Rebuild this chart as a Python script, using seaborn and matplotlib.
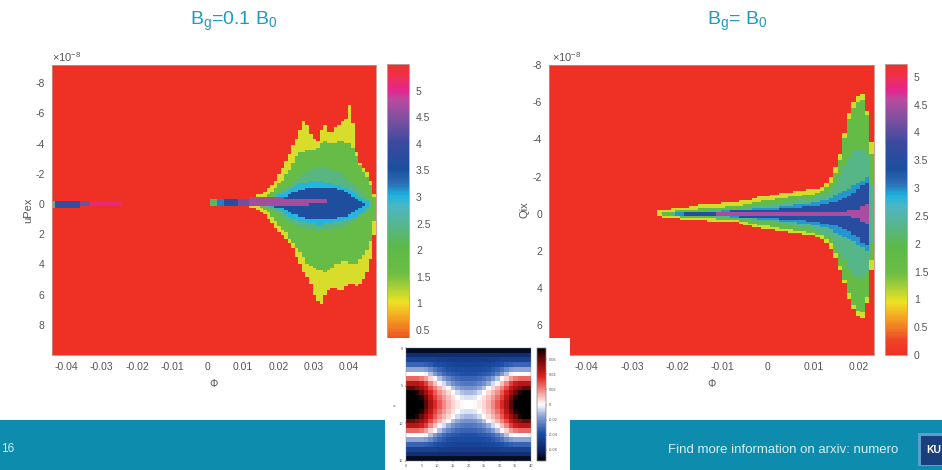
import matplotlib
matplotlib.use('Agg')
import matplotlib.pyplot as plt
from matplotlib.colors import LinearSegmentedColormap
from matplotlib.patches import Rectangle
import numpy as np
import seaborn as sns

# left panel, columns phi = 0.012 ... 0.047, band edges in units of 1e-8
up_phi_start = 0.012
up_edge_top = [.26,.35,.5,.6,.75,.93,1.1,1.4,1.9,2.3,2.75,3.2,3.85,4.3,4.9,5.4,5.2,4.5,4.25,4.1,4.8,5.2,4.7,4.65,5.0,5.1,5.5,5.6,6.4,5.3,3.4,2.7,2.3,2.0,1.4,.6]
up_green_top = [0,0,.1,.2,.35,.5,.7,.95,1.25,1.5,1.85,2.2,2.65,3.0,3.3,3.4,3.45,3.45,3.5,3.6,4.0,4.1,4.0,4.0,4.0,4.05,4.05,4.0,3.9,3.6,3.0,2.55,2.1,1.8,1.2,.4]
up_teal_top = [0,0,0,.1,.18,.3,.42,.55,.7,.85,1.0,1.2,1.45,1.65,1.8,1.95,2.1,2.2,2.3,2.35,2.4,2.4,2.3,2.2,2.1,2.0,1.85,1.7,1.5,1.25,1.05,.8,.55,.35,.15,0]
up_cyan_top = [0,0,0,.05,.12,.2,.3,.38,.5,.62,.75,.9,1.05,1.15,1.25,1.32,1.37,1.4,1.4,1.4,1.4,1.37,1.3,1.25,1.2,1.12,1.05,.95,.85,.75,.62,.45,.3,.1,0,0]
up_blue_top = [0,0,0,0,.05,.1,.15,.2,.28,.38,.48,.58,.68,.78,.85,.92,.97,1.0,1.02,1.02,1.02,1.0,1.0,1.0,.98,.9,.8,.7,.6,.45,.3,.15,0,0,0,0]
up_edge_bot = [.2,.25,.3,.4,.55,.9,1.2,1.5,1.75,1.95,2.2,2.5,2.9,3.4,3.85,4.4,4.8,5.2,5.9,6.4,6.6,5.9,5.6,5.5,5.5,5.6,5.6,5.4,5.2,5.2,5.3,5.2,4.9,4.4,3.6,2.0]
up_green_bot = [0,0,.05,.15,.3,.5,.8,1.1,1.35,1.6,1.85,2.2,2.55,2.85,3.2,3.5,3.85,4.05,4.2,4.3,4.35,4.4,4.35,4.1,3.9,3.8,3.7,3.7,3.8,3.9,3.8,3.6,3.3,3.0,2.4,1.0]
up_teal_bot = [0,0,0,.05,.12,.22,.35,.5,.65,.8,.95,1.1,1.25,1.35,1.45,1.5,1.6,1.65,1.7,1.75,1.7,1.7,1.65,1.6,1.55,1.5,1.45,1.35,1.25,1.1,.95,.8,.6,.4,.2,0]
up_cyan_bot = [0,0,0,.02,.05,.1,.17,.25,.35,.45,.55,.7,.85,.95,1.0,1.08,1.15,1.2,1.25,1.3,1.3,1.25,1.2,1.15,1.1,1.05,1.0,.92,.85,.8,.7,.55,.4,.2,0,0]
up_blue_bot = [0,0,0,0,0,.03,.07,.12,.18,.25,.35,.45,.55,.65,.72,.8,.85,.88,.9,.9,.9,.88,.88,.85,.85,.8,.75,.7,.62,.5,.38,.22,.1,0,0,0]
up_core = [.2,.2,.2,.2,.2,.2,.2,.2,.2,.2,.18,.18,.17,.16,.15,.14,.12,.1,.1,.08,.06,.05,0,0,0,0,0,0,0,0,0,0,0,0,0,0]
up_band_vals = [1.1, 1.75, 2.4, 3.0, 3.6, 4.7]

# thin line in front of the left panel
up_seg_start = [-0.0442,-0.043,-0.036,-0.033,0.0015,0.003,0.005,0.009]
up_seg_end = [-0.043,-0.036,-0.033,-0.024,0.003,0.005,0.009,0.012]
up_seg_val = [2.6,3.9,4.4,5.1,2.2,3.2,3.7,4.4]
up_seg_half = [.12,.12,.1,.05,.12,.12,.12,.12]
up_seg_center = [0,0,0,0,-.15,-.15,-.15,-.15]

# right panel, columns phi = -0.024 ... 0.022
qi_phi_start = -0.024
qi_edge_top = [.1,.15,.2,.22,.25,.28,.3,.35,.38,.42,.45,.47,.48,.5,.52,.55,.55,.58,.62,.68,.72,.8,.85,.9,.95,1.0,1.05,1.08,1.12,1.15,1.18,1.22,1.25,1.28,1.33,1.4,1.6,1.9,2.4,3.2,4.3,5.3,5.95,6.25,6.4,5.5,3.8]
qi_edge_bot = [.1,.12,.15,.18,.2,.22,.24,.25,.27,.28,.3,.32,.33,.35,.36,.38,.4,.42,.5,.55,.6,.65,.7,.75,.8,.85,.9,.93,.97,1.0,1.03,1.06,1.1,1.14,1.2,1.3,1.5,1.8,2.3,3.0,3.7,4.5,5.1,5.5,5.6,4.7,3.0]
qi_green_top = [0,.03,.06,.08,.1,.12,.15,.17,.2,.22,.24,.25,.27,.28,.3,.32,.34,.36,.4,.45,.5,.55,.6,.65,.7,.75,.78,.82,.85,.88,.92,.95,.98,1.02,1.08,1.2,1.38,1.65,2.1,2.9,4.0,5.0,5.65,5.95,6.05,5.2,3.2]
qi_green_bot = [0,.03,.06,.08,.1,.12,.13,.14,.15,.16,.18,.2,.21,.22,.23,.25,.27,.29,.36,.4,.45,.5,.55,.6,.65,.7,.74,.78,.82,.85,.88,.92,.96,1.0,1.06,1.15,1.3,1.55,2.05,2.75,3.45,4.2,4.8,5.2,5.3,4.4,2.5]
qi_teal = [0,0,0,.02,.03,.04,.05,.06,.07,.08,.09,.1,.12,.13,.15,.17,.19,.2,.22,.25,.28,.32,.35,.38,.42,.45,.48,.52,.56,.6,.64,.68,.72,.78,.85,.95,1.05,1.25,1.6,2.0,2.5,2.95,3.25,3.4,3.4,3.1,1.5]
qi_cyan = [0,0,0,0,.02,.02,.03,.03,.04,.05,.06,.07,.08,.09,.1,.11,.12,.13,.15,.17,.19,.21,.23,.25,.28,.3,.33,.36,.38,.41,.44,.47,.5,.54,.58,.64,.72,.82,.95,1.08,1.2,1.32,1.45,1.6,1.75,1.9,0]
qi_blue = [0,0,0,0,0,0,.02,.02,.03,.03,.04,.05,.06,.07,.08,.09,.1,.1,.12,.13,.14,.15,.16,.17,.18,.2,.22,.24,.25,.27,.29,.31,.33,.36,.39,.43,.48,.54,.6,.68,.78,.9,1.05,1.25,1.5,1.65,0]
qi_core = [0,0,0,0,0,0,0,0,0,0,0,0,0,.01,.01,.01,.02,.02,.02,.03,.03,.03,.03,.04,.04,.04,.05,.05,.05,.05,.06,.06,.06,.06,.07,.07,.08,.08,.08,.09,.09,.1,.12,.2,.4,.5,0]
qi_band_vals = [1.05, 1.7, 2.3, 2.95, 3.5, 4.5]

# inset, top left quarter of the island map (units of 0.01)
inset_quarter = [
    [-7,-7,-7,-7,-7,-7,-7,-7,-7,-7,-7,-7,-7,-7],
    [-5.5,-5.5,-5.5,-5.5,-5.5,-5.5,-5.5,-5.5,-5.5,-5.5,-5.5,-5.5,-5.5,-5.5],
    [-4.5,-4.5,-4.5,-4.5,-4.5,-4.5,-4.5,-4.6,-4.6,-4.7,-4.8,-4.8,-4.8,-4.8],
    [-3.2,-3.2,-3.2,-3.2,-3.3,-3.5,-3.7,-3.9,-4.1,-4.2,-4.3,-4.4,-4.4,-4.4],
    [-1.5,-1.5,-1.5,-1.5,-1.7,-2.2,-2.8,-3.2,-3.5,-3.7,-3.9,-4,-4,-4.1],
    [0,0,0,0,-.2,-1,-1.8,-2.5,-3,-3.3,-3.5,-3.6,-3.7,-3.7],
    [2.5,2.5,2.5,2.2,1.6,.7,.1,-1,-1.8,-2.4,-2.8,-3,-3.2,-3.2],
    [4.5,4.5,4.5,4,3.2,2,1,.2,-.6,-1.4,-2,-2.4,-2.6,-2.7],
    [6,6,5.5,5,4.2,3,2,1.2,.6,-.1,-1,-1.5,-1.9,-2],
    [7.5,7.5,7,6,5,3.8,2.7,1.8,1.2,.6,.05,-.6,-1,-1.2],
    [8,8,7.8,7,5.8,4.4,3.2,2.3,1.6,1,.5,.05,-.4,-.5],
    [8,8,8,7.5,6.2,4.8,3.6,2.7,1.9,1.2,.7,.3,.1,0],
]

phi_ticks_up = [-0.04,-0.03,-0.02,-0.01,0,0.01,0.02,0.03,0.04]
phi_ticks_qi = [-0.04,-0.03,-0.02,-0.01,0,0.01,0.02]
y_ticks_up = [-8,-6,-4,-2,0,2,4,6,8]
y_ticks_qi = [-8,-6,-4,-2,0,2,4,6]
cb_ticks_up = [0.5,1,1.5,2,2.5,3,3.5,4,4.5,5]
cb_ticks_qi = [0,0.5,1,1.5,2,2.5,3,3.5,4,4.5,5]

W, H = 942, 470
TEAL = '#0E8CAD'
GREY = '#555555'

sns.set_style('white')
plt.rcParams['font.family'] = ['Liberation Sans', 'DejaVu Sans']
plt.rcParams['mathtext.default'] = 'regular'

rainbow = LinearSegmentedColormap.from_list('rainbow_red', [
    (0.00,'#EE3124'),(0.05,'#EF4526'),(0.09,'#F07A23'),(0.14,'#F4B223'),(0.18,'#EDE324'),
    (0.22,'#B7D433'),(0.28,'#6CBD45'),(0.37,'#5DB947'),(0.46,'#55B59A'),(0.51,'#4DB6C0'),
    (0.545,'#1FB5E0'),(0.59,'#2B6EB5'),(0.64,'#1B4F9F'),(0.73,'#3B4A9F'),(0.82,'#8350A0'),
    (0.88,'#BA4A9E'),(0.91,'#E5258F'),(0.96,'#EE3050'),(1.00,'#EE3124')])
island = LinearSegmentedColormap.from_list('island', [
    (0.00,'#000000'),(0.08,'#0B1E5C'),(0.25,'#1D4FA8'),(0.40,'#8FA5D8'),(0.50,'#FFFFFF'),
    (0.62,'#F2908A'),(0.75,'#DC1F1F'),(0.90,'#6B0808'),(1.00,'#000000')])


def px_axes(x0, y0, x1, y1, **kw):
    # reference pixels -> figure axes
    return fig.add_axes([x0/W, 1-y1/H, (x1-x0)/W, (y1-y0)/H], **kw)


def px_box(x0, y0, x1, y1, color, z=1):
    fig.add_artist(Rectangle((x0/W, 1-y1/H), (x1-x0)/W, (y1-y0)/H, transform=fig.transFigure,
                             facecolor=color, edgecolor='none', zorder=z))


def build_grid(xlim, ylim, ncol, nrow, start, tops, bots, vals, center, base):
    dx = (xlim[1]-xlim[0])/ncol
    dy = (ylim[1]-ylim[0])/nrow
    grid = np.full((nrow, ncol), base)
    ys = ylim[0] + (np.arange(nrow)+.5)*dy - center
    xs = xlim[0] + (np.arange(ncol)+.5)*dx
    for top, bot, val in zip(tops, bots, vals):
        for n in range(len(top)):
            lo = start + n*0.001
            cols = np.where((xs >= lo) & (xs < lo+0.001))[0]
            up = (ys < 0) & (-ys <= top[n]+dy/2) if top[n] > 0 else np.zeros(nrow, bool)
            dn = (ys >= 0) & (ys <= bot[n]+dy/2) if bot[n] > 0 else np.zeros(nrow, bool)
            grid[np.ix_(up | dn, cols)] = val
    return grid, dx, dy


def panel(grid, box, cbox, xlim, ylim, dx, dy, vmin, vmax, xticks, yticks, cticks, ylab, ylab_x, mult_x):
    ax = px_axes(*box)
    cax = px_axes(*cbox)
    sns.heatmap(grid, ax=ax, cbar_ax=cax, cmap=rainbow, vmin=vmin, vmax=vmax,
                xticklabels=False, yticklabels=False, cbar_kws={'ticks': cticks, 'format': '%g'})
    ax.set_xticks([(t-xlim[0])/dx for t in xticks])
    ax.set_xticklabels([f'{t:g}' for t in xticks])
    ax.set_yticks([(t-ylim[0])/dy for t in yticks])
    ax.set_yticklabels([f'{t:g}' for t in yticks])
    ax.tick_params(direction='in', length=2, width=.5, color='#8a3a30', labelsize=7.5, labelcolor=GREY,
                   top=True, right=True, bottom=True, left=True, pad=5)
    for s in ax.spines.values():
        s.set_visible(True)
        s.set_color('#c98a80')
        s.set_linewidth(.6)
    cax.tick_params(direction='in', length=2, width=.5, color='#777777', labelsize=7.5, labelcolor=GREY, right=True, pad=5)
    for s in cax.spines.values():
        s.set_visible(True)
        s.set_color('#c0a0a0')
        s.set_linewidth(.5)
    fig.text(ylab_x/W, 1-210/H, ylab, rotation=90, fontsize=8, color=GREY, ha='center', va='center')
    fig.text((box[0]+box[2])/2/W, 1-384/H, 'Φ', fontsize=7.5, color=GREY, ha='center', va='center')
    fig.text(mult_x/W, 1-57/H, r'$\times10^{-8}$', fontsize=8, color=GREY, ha='left', va='center')


fig = plt.figure(figsize=(W/100, H/100), dpi=100, facecolor='white')

# footer sits below the charts
px_box(0, 420, W, H, TEAL, z=0)

# left panel
up_xlim = (-0.0442, 0.0476)
up_ylim = (-9.2, 10.0)
up_tops = [up_edge_top, up_green_top, up_teal_top, up_cyan_top, up_blue_top]
up_bots = [up_edge_bot, up_green_bot, up_teal_bot, up_cyan_bot, up_blue_bot]
up_grid, up_dx, up_dy = build_grid(up_xlim, up_ylim, 92, 130, up_phi_start, up_tops, up_bots, up_band_vals[:5], 0, 0.03)
for s, e, v, h, c in zip(up_seg_start, up_seg_end, up_seg_val, up_seg_half, up_seg_center):
    i0 = int((c-h-up_ylim[0])/up_dy)
    i1 = int((c+h-up_ylim[0])/up_dy)+1
    j0 = int((s-up_xlim[0])/up_dx)
    j1 = int((e-up_xlim[0])/up_dx)
    up_grid[i0:i1, j0:j1] = v
# violet core around the centre line
core_grid, _, _ = build_grid(up_xlim, up_ylim, 92, 130, up_phi_start, [up_core], [up_core], [up_band_vals[5]], -0.15, 0.0)
up_grid[core_grid > 0] = up_band_vals[5]
panel(up_grid, (51.5, 65, 376, 355), (387, 64, 409, 355), up_xlim, up_ylim, up_dx, up_dy, 0.03, 5.5,
      phi_ticks_up, y_ticks_up, cb_ticks_up, 'uPex', 28, 52)

# right panel
qi_xlim = (-0.0483, 0.0234)
qi_ylim = (-8.0, 7.6)
qi_tops = [qi_edge_top, qi_green_top, qi_teal, qi_cyan, qi_blue, qi_core]
qi_bots = [qi_edge_bot, qi_green_bot, qi_teal, qi_cyan, qi_blue, qi_core]
qi_grid, qi_dx, qi_dy = build_grid(qi_xlim, qi_ylim, 72, 150, qi_phi_start, qi_tops, qi_bots, qi_band_vals, 0, 0.0)
panel(qi_grid, (549, 65, 874, 355), (885, 64, 907, 355), qi_xlim, qi_ylim, qi_dx, qi_dy, 0.0, 5.23,
      phi_ticks_qi, y_ticks_qi, cb_ticks_qi, 'Qix', 524, 552)

# titles
fig.text(234/W, 1-21/H, 'B$_{g}$=0.1 B$_{0}$', fontsize=14, color='#1C9CC0', ha='center', va='center')
fig.text(737/W, 1-21/H, 'B$_{g}$= B$_{0}$', fontsize=14, color='#1C9CC0', ha='center', va='center')

# white card with the island inset, on top of everything
px_box(385, 338, 570, H, 'white', z=5)
q = np.array(inset_quarter)/100
top_half = np.hstack([q, q[:, ::-1]])
inset = np.vstack([top_half, top_half[::-1]])
iax = px_axes(406, 348, 531, 461, zorder=6)
icax = px_axes(537, 348, 546, 461, zorder=6)
sns.heatmap(inset, ax=iax, cbar_ax=icax, cmap=island, vmin=-0.075, vmax=0.075, xticklabels=False, yticklabels=False,
            cbar_kws={'ticks': [-0.06,-0.04,-0.02,0,0.02,0.04,0.06], 'format': '%g'})
iax.set_xticks(np.linspace(0, inset.shape[1], 9))
iax.set_xticklabels(['0','5','10','15','20','25','30','35','40'])
iax.set_yticks(np.linspace(0, inset.shape[0], 4))
iax.set_yticklabels(['0','5','10','15'])
iax.set_ylabel('y', fontsize=3, color=GREY, labelpad=1)
iax.tick_params(length=1, width=.3, labelsize=2.8, labelcolor=GREY, pad=1, bottom=True, left=True)
icax.tick_params(length=1, width=.3, labelsize=2.8, labelcolor=GREY, pad=1, right=True)
for a in (iax, icax):
    for s in a.spines.values():
        s.set_visible(True)
        s.set_color('#888888')
        s.set_linewidth(.3)

# footer text and logo
fig.text(1/W, 1-449/H, '16', fontsize=8.5, color='#D8EEF3', ha='left', va='center')
fig.text(668/W, 1-450/H, 'Find more information on arxiv: numero', fontsize=9.5, color='#D8EEF3', ha='left', va='center')
px_box(918, 433, W, 466, '#5A9FCC', z=2)
px_box(921, 436, W, 465, '#1B3F7D', z=3)
fig.text(926/W, 1-450/H, 'KU', fontsize=7.5, fontweight='bold', color='white', ha='left', va='center', zorder=4)

plt.savefig('out.png', dpi=100)
plt.close()
